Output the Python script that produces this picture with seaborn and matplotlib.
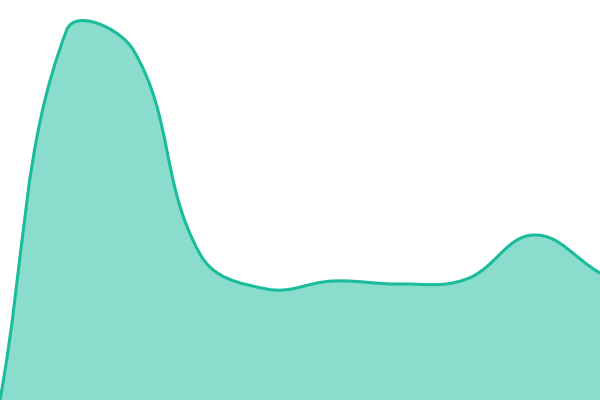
"""
Smooth filled area, no axes.
"""

import numpy as np
import matplotlib
matplotlib.use("Agg")
import matplotlib.pyplot as plt
from matplotlib.path import Path
from matplotlib.patches import PathPatch
import seaborn as sns

# data
steps = [0, 1, 2, 3, 4, 5, 6, 7, 8, 9]
values = [0, 370, 350, 146, 111, 119, 116, 121, 165, 127]

LINE = "#1abc9c"
W, H = 600, 400
TENSION = 0.4


def spline_path(xs, ys):
    # bezier with tension, control points kept inside the plot box
    pts = np.column_stack([xs, ys]).astype(float)
    n = len(pts)
    before, after = [], []
    for i in range(n):
        p0 = pts[max(i - 1, 0)]
        p1 = pts[i]
        p2 = pts[min(i + 1, n - 1)]
        d01 = np.hypot(*(p1 - p0))
        d12 = np.hypot(*(p2 - p1))
        tot = d01 + d12
        fa = TENSION * d01 / tot if tot else 0
        fb = TENSION * d12 / tot if tot else 0
        b = p1 - fa * (p2 - p0)
        a = p1 + fb * (p2 - p0)
        before.append(np.clip(b, [0, 0], [W, H]))
        after.append(np.clip(a, [0, 0], [W, H]))
    verts = [pts[0]]
    codes = [Path.MOVETO]
    for i in range(n - 1):
        verts += [after[i], before[i + 1], pts[i + 1]]
        codes += [Path.CURVE4] * 3
    return verts, codes


def main():
    sns.set_style("white")

    fig = plt.figure(figsize=(6, 4), dpi=100)
    ax = fig.add_axes([0, 0, 1, 1])

    xs = np.array(steps) * W / steps[-1]
    verts, codes = spline_path(xs, values)

    area_verts = verts + [(xs[-1], 0), (xs[0], 0), verts[0]]
    area_codes = codes + [Path.LINETO, Path.LINETO, Path.CLOSEPOLY]
    ax.add_patch(PathPatch(Path(area_verts, area_codes), facecolor=LINE,
                           alpha=0.51, edgecolor="none"))
    ax.add_patch(PathPatch(Path(verts, codes), facecolor="none",
                           edgecolor=LINE, linewidth=2.2, capstyle="round"))

    ax.set_xlim(0, W)
    ax.set_ylim(0, H)
    ax.axis("off")
    fig.savefig("out.png", dpi=100)


if __name__ == "__main__":
    main()
